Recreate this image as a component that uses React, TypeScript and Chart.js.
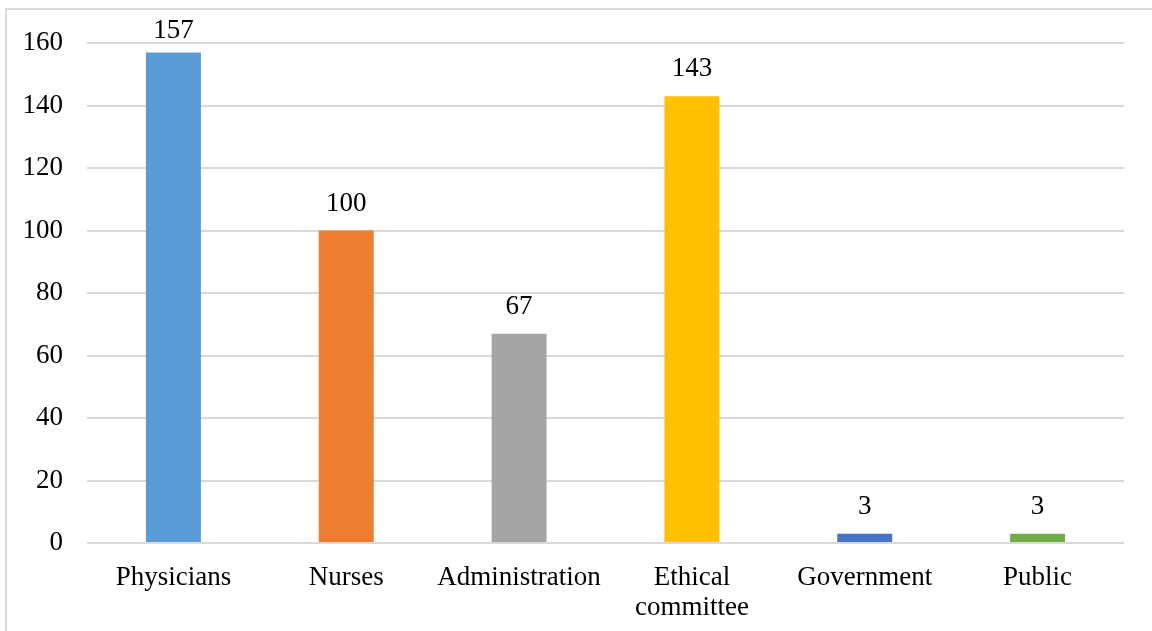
import React, { useEffect, useRef } from "react";
import { Chart, registerables } from "chart.js";

Chart.register(...registerables);

const categories: (string | string[])[] = [
  "Physicians",
  "Nurses",
  "Administration",
  ["Ethical", "committee"],
  "Government",
  "Public",
];
const values: number[] = [157, 100, 67, 143, 3, 3];
const barColors: string[] = ["#5B9BD5", "#ED7D31", "#A5A5A5", "#FFC000", "#4472C4", "#70AD47"];
const yMin = 0;
const yMax = 160;
const yStep = 20;

const FONT_FAMILY = "'Liberation Serif', 'Times New Roman', serif";
const FONT_SIZE = 27;

const dataLabelPlugin = {
  id: "dataLabels",
  afterDatasetsDraw(chart: any) {
    const ctx = chart.ctx;
    ctx.save();
    ctx.font = `${FONT_SIZE}px ${FONT_FAMILY}`;
    ctx.fillStyle = "#000000";
    ctx.textAlign = "center";
    ctx.textBaseline = "alphabetic";
    chart.data.datasets.forEach((ds: any, di: number) => {
      const meta = chart.getDatasetMeta(di);
      meta.data.forEach((bar: any, i: number) => {
        const y = Math.max(bar.y - 20, 38);
        ctx.fillText(String(ds.data[i]), bar.x, y);
      });
    });
    ctx.restore();
  },
};

export default function App() {
  const canvasRef = useRef<HTMLCanvasElement | null>(null);

  useEffect(() => {
    document.body.style.margin = "0";
    document.body.style.overflow = "hidden";
    const canvas = canvasRef.current;
    if (!canvas) return;
    const chart = new Chart(canvas, {
      type: "bar",
      data: {
        labels: categories as any,
        datasets: [
          {
            data: values,
            backgroundColor: barColors,
            borderWidth: 0,
            categoryPercentage: 1,
            barPercentage: 0.318,
          },
        ],
      },
      options: {
        responsive: false,
        animation: false,
        layout: { padding: { top: 43, right: 28, left: 0, bottom: 0 } },
        plugins: {
          legend: { display: false },
          tooltip: { enabled: false },
        },
        scales: {
          x: {
            grid: { display: false, drawTicks: false },
            border: { display: false },
            ticks: {
              color: "#000000",
              font: { family: FONT_FAMILY, size: FONT_SIZE, lineHeight: 1.12 },
              padding: 20,
              maxRotation: 0,
              autoSkip: false,
            },
            afterFit: (scale: any) => {
              scale.height = 88;
            },
          },
          y: {
            min: yMin,
            max: yMax,
            grid: { color: "#d9d9d9", lineWidth: 2, drawTicks: false },
            border: { display: false },
            ticks: {
              stepSize: yStep,
              color: "#000000",
              font: { family: FONT_FAMILY, size: FONT_SIZE },
              padding: 24,
            },
            afterFit: (scale: any) => {
              scale.width = 87;
            },
          },
        },
      },
      plugins: [dataLabelPlugin],
    });
    return () => chart.destroy();
  }, []);

  return (
    <div
      style={{
        position: "fixed",
        left: 0,
        top: 0,
        width: 1152,
        height: 631,
        overflow: "hidden",
        background: "#ffffff",
      }}
    >
      <div
        style={{
          position: "absolute",
          left: 5,
          top: 8,
          width: 2000,
          height: 2000,
          borderLeft: "2px solid #d9d9d9",
          borderTop: "2px solid #d9d9d9",
        }}
      />
      <canvas
        ref={canvasRef}
        width={1152}
        height={631}
        style={{ position: "absolute", left: 0, top: 0, width: 1152, height: 631 }}
      />
    </div>
  );
}
